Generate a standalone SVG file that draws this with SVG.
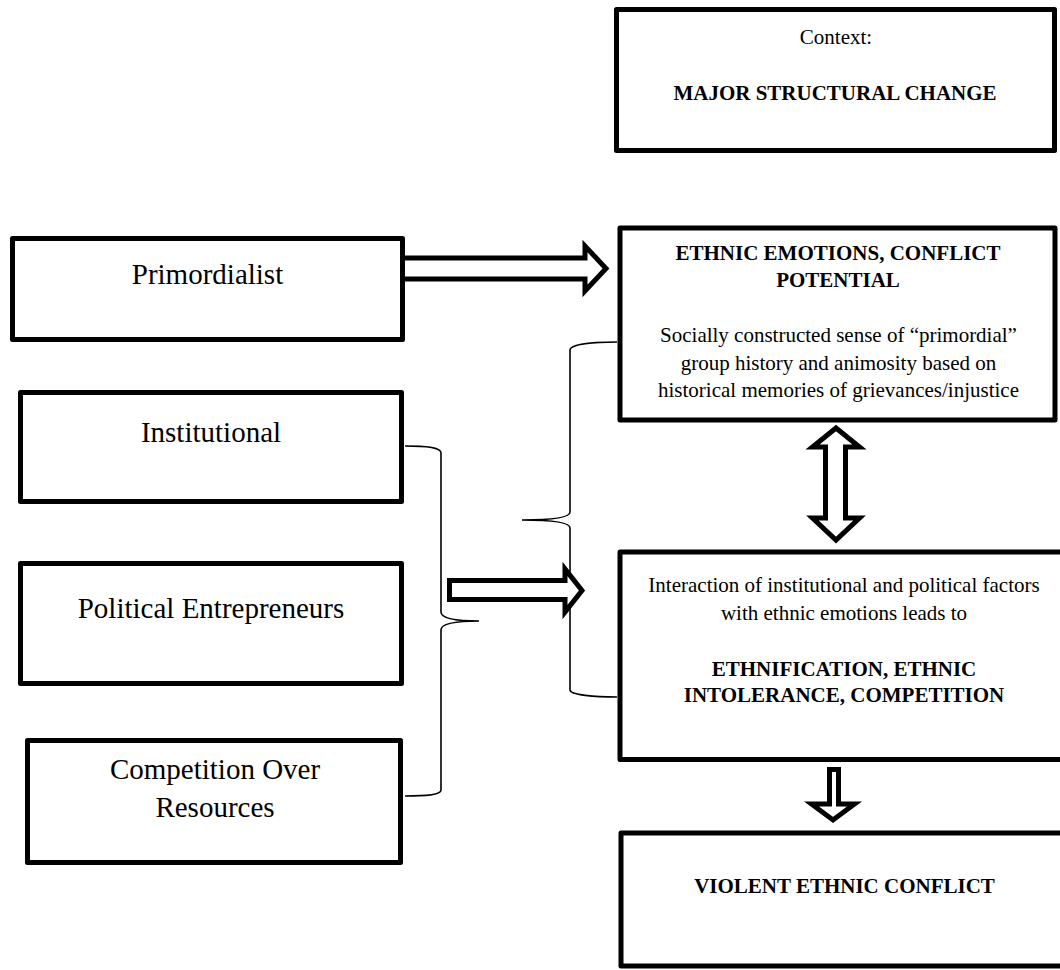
<svg xmlns="http://www.w3.org/2000/svg" width="1060" height="970" viewBox="0 0 1060 970">
<style>
.box{fill:#fff;stroke:#000;stroke-width:5;stroke-linejoin:round}
.t{font-family:"Liberation Serif","Times New Roman",serif;fill:#000;text-anchor:middle}
.r21{font-size:21px}
.b21{font-size:21px;font-weight:bold}
.r29{font-size:29px}
.blk{fill:#fff;stroke:#000;stroke-width:5;stroke-linejoin:miter}
.brace{fill:none;stroke:#000;stroke-width:1.6}
</style>
<rect width="1060" height="970" fill="#fff"/>
<g id="context">
<rect class="box" x="616.5" y="9.5" width="438" height="141"/>
<text class="t r21" x="836" y="44">Context:</text>
<text class="t b21" x="835" y="100">MAJOR STRUCTURAL CHANGE</text>
</g>
<g id="primordialist">
<rect class="box" x="12.5" y="238.5" width="390" height="101"/>
<text class="t r29" x="207.5" y="284">Primordialist</text>
</g>
<g id="institutional">
<rect class="box" x="20.5" y="392.5" width="381" height="109"/>
<text class="t r29" x="211" y="442">Institutional</text>
</g>
<g id="political">
<rect class="box" x="20.5" y="563.5" width="381" height="120"/>
<text class="t r29" x="211" y="618">Political Entrepreneurs</text>
</g>
<g id="competition">
<rect class="box" x="27.5" y="740.5" width="373" height="122"/>
<text class="t r29" x="215" y="779">Competition Over</text>
<text class="t r29" x="215" y="817">Resources</text>
</g>
<g id="ethnic-emotions">
<rect class="box" x="620" y="228" width="435" height="192"/>
<text class="t b21" x="838" y="260">ETHNIC EMOTIONS, CONFLICT</text>
<text class="t b21" x="838" y="287">POTENTIAL</text>
<text class="t r21" x="838.5" y="342">Socially constructed sense of “primordial”</text>
<text class="t r21" x="838.5" y="370">group history and animosity based on</text>
<text class="t r21" x="838.5" y="397">historical memories of grievances/injustice</text>
</g>
<g id="interaction">
<rect class="box" x="620" y="552" width="450" height="207.5"/>
<text class="t r21" x="844" y="592">Interaction of institutional and political factors</text>
<text class="t r21" x="844" y="620">with ethnic emotions leads to</text>
<text class="t b21" x="844" y="676">ETHNIFICATION, ETHNIC</text>
<text class="t b21" x="844" y="702">INTOLERANCE, COMPETITION</text>
</g>
<g id="violent">
<rect class="box" x="621" y="833" width="450" height="133"/>
<text class="t b21" x="844.5" y="893">VIOLENT ETHNIC CONFLICT</text>
</g>
<g id="connectors">
<path class="brace" d="M405,446 C425,446 441,447 441,453 V612 C441,618 455,621 479,621 C455,621 441,624 441,630 V790 C441,795 425,796 405,796"/>
<path class="brace" d="M617,342 C595,342 570,344 570,350 V512 C570,517 555,520 522,520 C555,520 570,523 570,528 V690 C570,695 595,697 617,697"/>
<path class="blk" d="M405,258 H585 V246 L606,268.5 L585,291 V279 H405"/>
<path class="blk" d="M449.5,580.5 H565 V569 L582,590.5 L565,612 V599.5 H449.5 Z"/>
<path class="blk" d="M836,428 L859.5,447 H845.5 V518 H859.5 L836,540 L812.5,518 H825.5 V447 H812.5 Z"/>
<path class="blk" d="M829.5,769.5 V804 H811.5 L833,820 L854.5,804 H838.5 V769.5 Z"/>
</g>
</svg>
